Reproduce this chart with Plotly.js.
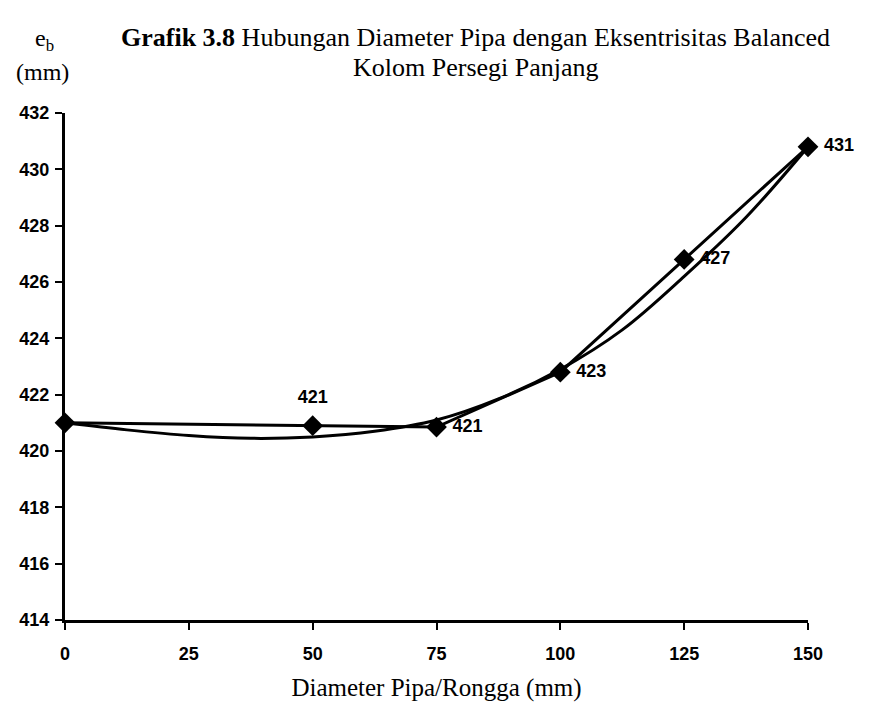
<!DOCTYPE html>
<html>
<head>
<meta charset="utf-8">
<script src="https://cdn.plot.ly/plotly-3.0.1.min.js"></script>
<style>html,body{margin:0;padding:0;background:#fff;}#chart{width:872px;height:709px;}</style>
</head>
<body>
<div id="chart"></div>
<script>
// Data
const diameter = [0, 50, 75, 100, 125, 150];
const eb = [421.0, 420.9, 420.85, 422.8, 426.8, 430.8];
// Data labels (first point carries no label in the reference)
const labelX = [50, 75, 100, 125, 150];
const labelY = [420.9, 420.85, 422.8, 426.8, 430.8];
const pointLabels = ["421", "\u00a0421", "\u00a0423", "\u00a0427", "\u00a0431"];
const labelPos = ["top center", "middle right", "middle right", "middle right", "middle right"];
// Trend (polynomial) curve
const trendX = [0, 12.5, 25, 37.5, 50, 62.5, 75, 87.5, 100, 112.5, 125, 137.5, 150];
const trendY = [421.0, 420.75, 420.55, 420.45, 420.5, 420.7, 421.1, 421.85, 422.9, 424.3, 426.2, 428.3, 430.8];
const xTicks = [0, 25, 50, 75, 100, 125, 150];
const yTicks = [414, 416, 418, 420, 422, 424, 426, 428, 430, 432];

const serif = 'Liberation Serif, Times New Roman, serif';
const sans = 'Liberation Sans, Arial, sans-serif';

const traces = [
  {x: trendX, y: trendY, mode: 'lines', line: {color: '#000', width: 3, shape: 'spline', smoothing: 1}, hoverinfo: 'skip'},
  {x: labelX, y: labelY, mode: 'markers+text', text: pointLabels, textposition: labelPos,
   marker: {size: [28, 16, 16, 16, 16], color: 'rgba(0,0,0,0)', opacity: 0, line: {width: 0}},
   textfont: {family: sans, size: 18, color: '#000', weight: 'bold'}, cliponaxis: false},
  {x: diameter, y: eb, mode: 'lines+markers', line: {color: '#000', width: 3},
   marker: {symbol: 'diamond', size: 16, color: '#000', line: {width: 0}}, cliponaxis: false}
];

const layout = {
  width: 872, height: 709,
  margin: {l: 65, r: 64, t: 113, b: 89},
  paper_bgcolor: '#fff', plot_bgcolor: '#fff',
  showlegend: false,
  xaxis: {
    range: [0, 150], tickvals: xTicks, ticktext: xTicks.map(String),
    showgrid: false, zeroline: false, showline: true, linecolor: '#000', linewidth: 3,
    ticks: 'outside', ticklen: 7, tickwidth: 2, tickcolor: '#000', ticklabelstandoff: 8,
    tickfont: {family: sans, size: 18, color: '#000', weight: 'bold'},
    title: {text: 'Diameter Pipa/Rongga (mm)', font: {family: serif, size: 25, color: '#000'}, standoff: 16}
  },
  yaxis: {
    range: [414, 432], tickvals: yTicks, ticktext: yTicks.map(String),
    showgrid: false, zeroline: false, showline: true, linecolor: '#000', linewidth: 3,
    ticks: 'outside', ticklen: 7, tickwidth: 2, tickcolor: '#000', ticklabelstandoff: 2,
    tickfont: {family: sans, size: 18, color: '#000', weight: 'bold'}
  },
  annotations: [
    {text: '<b>Grafik 3.8</b> Hubungan Diameter Pipa dengan Eksentrisitas Balanced', xref: 'paper', yref: 'paper',
     x: 0.553, y: 1.148, xanchor: 'center', yanchor: 'middle', showarrow: false,
     font: {family: serif, size: 26, color: '#000'}},
    {text: 'Kolom Persegi Panjang', xref: 'paper', yref: 'paper',
     x: 0.553, y: 1.089, xanchor: 'center', yanchor: 'middle', showarrow: false,
     font: {family: serif, size: 26, color: '#000'}},
    {text: 'e<sub>b</sub>', xref: 'paper', yref: 'paper', x: -0.027, y: 1.144, xanchor: 'center', yanchor: 'middle', showarrow: false,
     font: {family: serif, size: 24, color: '#000'}},
    {text: '(mm)', xref: 'paper', yref: 'paper', x: -0.03, y: 1.081, xanchor: 'center', yanchor: 'middle', showarrow: false,
     font: {family: serif, size: 24, color: '#000'}}
  ]
};

Plotly.newPlot('chart', traces, layout, {displayModeBar: false, staticPlot: true});
</script>
</body>
</html>
